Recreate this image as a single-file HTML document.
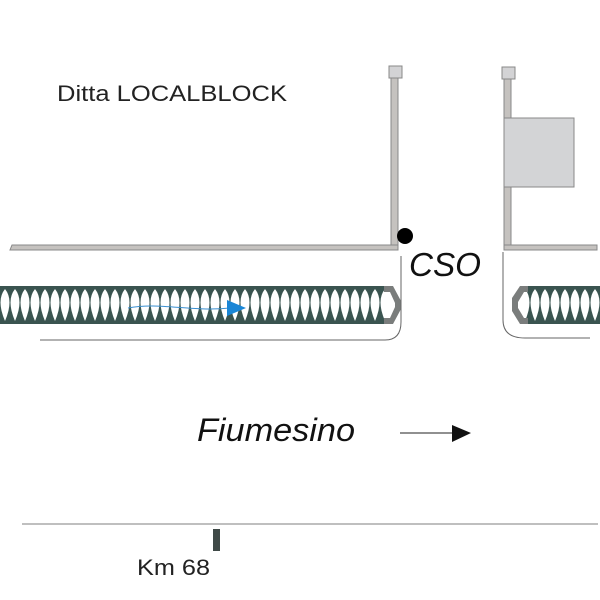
<!DOCTYPE html>
<html><head><meta charset="utf-8"><style>
html,body{margin:0;padding:0;background:#fff;width:600px;height:600px;overflow:hidden}
svg{display:block}
text{font-family:"Liberation Sans",Arial,sans-serif}
</style></head><body>
<svg width="600" height="600" viewBox="0 0 600 600" xmlns="http://www.w3.org/2000/svg">
<defs>
<pattern id="sp" x="0" y="286" width="10" height="38" patternUnits="userSpaceOnUse">
<rect width="10" height="38" fill="#3a5450"/>
<path d="M5,3 Q14,14 5,35 Q-4,14 5,3 Z" fill="#fff"/>
</pattern>
</defs>
<text x="57" y="101" font-size="22" fill="#222" textLength="230" lengthAdjust="spacingAndGlyphs">Ditta LOCALBLOCK</text>
<rect x="389" y="66" width="13" height="12" fill="#d3d3d5" stroke="#888" stroke-width="1"/>
<rect x="391" y="78" width="7" height="172" fill="#c5c2bf" stroke="#888" stroke-width="1"/>
<polygon points="12,245 398,245 398,250 10,250" fill="#c5c2bf" stroke="#888" stroke-width="1"/>
<circle cx="405" cy="236" r="8" fill="#000"/>
<text x="409" y="276" font-size="33" font-style="italic" fill="#111" textLength="72" lengthAdjust="spacingAndGlyphs">CSO</text>
<rect x="502" y="67" width="13" height="12" fill="#d3d3d5" stroke="#888" stroke-width="1"/>
<rect x="504" y="79" width="7" height="171" fill="#c5c2bf" stroke="#888" stroke-width="1"/>
<rect x="504" y="245" width="93" height="5" fill="#c5c2bf" stroke="#888" stroke-width="1"/>
<rect x="504" y="118" width="70" height="69" fill="#d3d4d6" stroke="#888" stroke-width="1"/>
<rect x="0" y="286" width="386" height="38" fill="url(#sp)"/>
<polygon points="384,286 393,286 401,301 401,309 393,324 384,324 384,318 390,318 395,307 395,303 390,292 384,292" fill="#7a7d7c"/>
<rect x="526" y="286" width="74" height="38" fill="url(#sp)"/>
<polygon points="528,286 520,286 512,298 512,311 520,324 528,324 528,318 524,318 518,308 518,302 524,292 528,292" fill="#7a7d7c"/>
<path d="M128,308 C160,302 190,312 230,308" fill="none" stroke="#3a8fd0" stroke-width="1"/>
<polygon points="227,300 246,308 227,316" fill="#1a86d6"/>
<path d="M40,340 L385,340 Q401,340 401,322 L401,256" fill="none" stroke="#666" stroke-width="1"/>
<path d="M503,252 L503,320 Q503,338 525,338 L590,338" fill="none" stroke="#666" stroke-width="1"/>
<text x="197" y="441" font-size="32" font-style="italic" fill="#111" textLength="158" lengthAdjust="spacingAndGlyphs">Fiumesino</text>
<line x1="400" y1="433" x2="455" y2="433" stroke="#222" stroke-width="1"/>
<polygon points="452,425 471,433 452,442" fill="#111"/>
<line x1="22" y1="524" x2="598" y2="524" stroke="#999" stroke-width="1.2"/>
<rect x="213" y="529" width="7" height="22" fill="#3f4a48"/>
<text x="137" y="575" font-size="22" fill="#222" textLength="73" lengthAdjust="spacingAndGlyphs">Km 68</text>
</svg>
</body></html>
